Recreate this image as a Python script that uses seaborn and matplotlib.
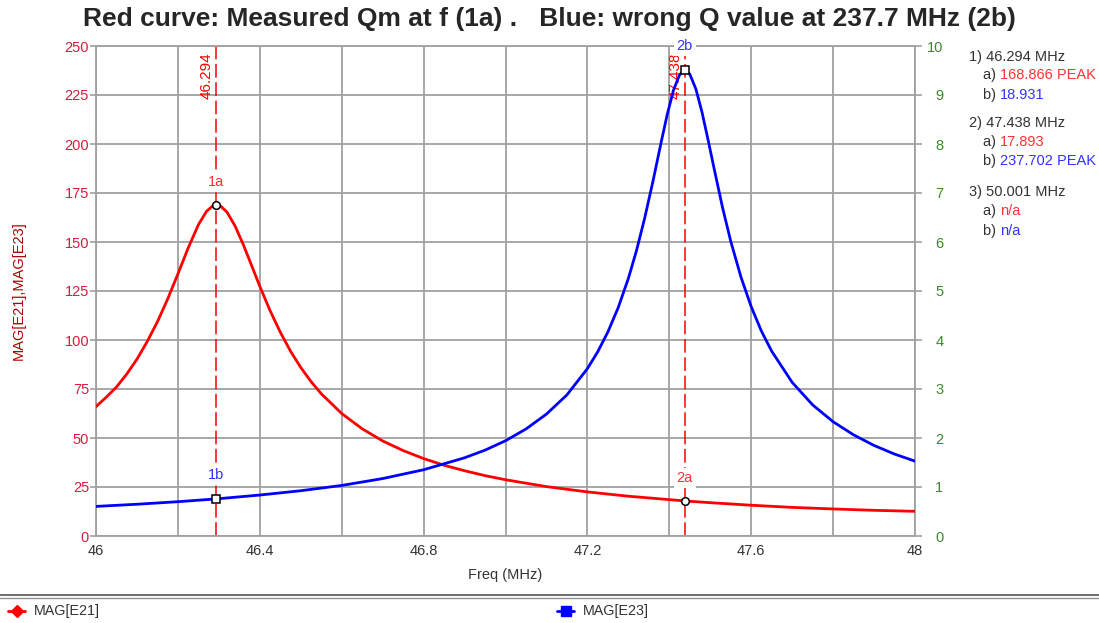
import matplotlib
matplotlib.use("Agg")
import matplotlib.pyplot as plt
from matplotlib.lines import Line2D
import seaborn as sns
import pandas as pd

# ---- data ----
freq_e21 = [46.000, 46.025, 46.050, 46.075, 46.100, 46.125, 46.150, 46.175, 46.200, 46.225,
            46.250, 46.270, 46.285, 46.294, 46.305, 46.320, 46.340, 46.360, 46.380, 46.400,
            46.425, 46.450, 46.475, 46.500, 46.525, 46.550, 46.600, 46.650, 46.700, 46.750,
            46.800, 46.850, 46.900, 46.950, 47.000, 47.100, 47.200, 47.300, 47.438, 47.500,
            47.600, 47.700, 47.800, 47.900, 48.000]
mag_e21 = [66.0, 70.8, 76.0, 82.6, 90.2, 99.2, 109.3, 120.9, 133.7, 146.9,
           158.8, 165.7, 168.4, 168.866, 168.2, 165.2, 158.0, 148.5, 138.0, 127.4,
           115.0, 104.0, 94.3, 86.0, 78.8, 72.6, 62.5, 54.7, 48.5, 43.6,
           39.5, 36.1, 33.3, 30.8, 28.7, 25.2, 22.5, 20.3, 17.893, 17.0,
           15.7, 14.6, 13.8, 13.1, 12.6]

freq_e23 = [46.000, 46.100, 46.200, 46.294, 46.400, 46.500, 46.600, 46.700, 46.800, 46.900,
            46.950, 47.000, 47.050, 47.100, 47.150, 47.200, 47.225, 47.250, 47.275, 47.300,
            47.320, 47.340, 47.360, 47.380, 47.395, 47.410, 47.425, 47.438, 47.450, 47.465,
            47.480, 47.495, 47.510, 47.530, 47.550, 47.575, 47.600, 47.625, 47.650, 47.700,
            47.750, 47.800, 47.850, 47.900, 47.950, 48.000]
mag_e23 = [15.1, 16.2, 17.5, 18.931, 20.9, 23.1, 25.8, 29.3, 33.8, 39.9,
           43.8, 48.6, 54.6, 62.2, 72.0, 85.4, 93.9, 104.1, 116.4, 131.4,
           145.7, 162.3, 180.9, 200.8, 215.1, 227.3, 235.3, 237.702, 235.7, 228.0,
           216.1, 201.8, 186.9, 167.6, 150.4, 132.1, 117.0, 104.5, 94.3, 78.4,
           66.9, 58.3, 51.6, 46.2, 41.8, 38.2]

marker_freqs = [46.294, 47.438]
marker_labels_freq = ["46.294", "47.438"]
markers_a = [("1a", 46.294, 168.866), ("2a", 47.438, 17.893)]
markers_b = [("1b", 46.294, 18.931), ("2b", 47.438, 237.702)]

x_ticks = [46, 46.4, 46.8, 47.2, 47.6, 48]
x_tick_labels = ["46", "46.4", "46.8", "47.2", "47.6", "48"]
y_ticks = list(range(0, 251, 25))
y2_ticks = list(range(0, 11))

readout = [
    ("1) 46.294 MHz", None, None),
    ("a) ", "168.866 PEAK", "red"),
    ("b) ", "18.931", "blue"),
    ("2) 47.438 MHz", None, None),
    ("a) ", "17.893", "red"),
    ("b) ", "237.702 PEAK", "blue"),
    ("3) 50.001 MHz", None, None),
    ("a) ", "n/a", "red"),
    ("b) ", "n/a", "blue"),
]
readout_y = [57, 75, 95, 123, 142, 161, 192, 211, 231]

title = "Red curve: Measured Qm at f (1a) .   Blue: wrong Q value at 237.7 MHz (2b)"

# ---- style ----
sns.set_style("white")
plt.rcParams["font.family"] = ["Liberation Sans", "DejaVu Sans"]

W, H = 1099, 623
FS = 10.5
fig = plt.figure(figsize=(W / 100, H / 100), dpi=100)
ax = fig.add_axes([96 / W, 1 - 536 / H, (915 - 96) / W, (536 - 46) / H])

RED = "#ff0000"
BLUE = "#0000ff"
GRID = "#a0a0a0"
LRED = "#d81b3c"
GREEN = "#3a8a2a"
TXT = "#333333"

df21 = pd.DataFrame({"freq": freq_e21, "mag": mag_e21})
df23 = pd.DataFrame({"freq": freq_e23, "mag": mag_e23})

ax.set_xlim(46, 48)
ax.set_ylim(0, 250)

# vertical marker lines
for f in marker_freqs:
    ax.axvline(f, color=RED, lw=1.1, dashes=(9, 3), zorder=1.5)
for f, lab in zip(marker_freqs, marker_labels_freq):
    ax.annotate(lab, xy=(f, 235), xytext=(-7, 0), textcoords="offset points",
                rotation=90, color=RED, fontsize=11, ha="center", va="center", zorder=1.6)

sns.lineplot(data=df21, x="freq", y="mag", ax=ax, color=RED, lw=2.0, zorder=3,
             estimator=None, sort=True, legend=False)
sns.lineplot(data=df23, x="freq", y="mag", ax=ax, color=BLUE, lw=2.0, zorder=3,
             estimator=None, sort=True, legend=False)

for lab, f, v in markers_a:
    ax.plot([f], [v], marker="o", ms=5.5, mfc="white", mec="black", mew=1.1,
            zorder=5, clip_on=False)
    ax.annotate(lab, xy=(f, v), xytext=(0, 16.5), textcoords="offset points",
                color="#ff3030", fontsize=FS, ha="center", va="center", zorder=4,
                bbox=dict(boxstyle="square,pad=0.2", fc="white", ec="none"),
                annotation_clip=False)
for lab, f, v in markers_b:
    ax.plot([f], [v], marker="s", ms=5.5, mfc="white", mec="black", mew=1.1,
            zorder=5, clip_on=False)
    ax.annotate(lab, xy=(f, v), xytext=(0, 17.5), textcoords="offset points",
                color="#3030ff", fontsize=FS, ha="center", va="center", zorder=4,
                bbox=dict(boxstyle="square,pad=0.2", fc="white", ec="none"),
                annotation_clip=False)

# axes styling
for s in ax.spines.values():
    s.set_color(GRID)
    s.set_linewidth(1.3)
ax.set_xticks(x_ticks)
ax.set_xticklabels(x_tick_labels)
ax.set_xticks([46 + 0.2 * i for i in range(11)], minor=True)
ax.grid(True, which="both", color=GRID, lw=1.3, zorder=0)
ax.set_axisbelow(True)
ax.set_yticks(y_ticks)
ax.tick_params(axis="x", which="both", length=0, pad=6, labelsize=FS, labelcolor=TXT)
ax.tick_params(axis="y", length=4, width=1.2, color=GRID, pad=1, labelsize=FS,
               labelcolor=LRED, left=True)
ax.set_xlabel("Freq (MHz)", fontsize=FS, color=TXT, labelpad=7)
ax.set_ylabel("MAG[E21],MAG[E23]", fontsize=FS, color="#b00000", labelpad=28)

ax2 = ax.twinx()
ax2.set_ylim(0, 10)
ax2.set_yticks(y2_ticks)
ax2.grid(False)
for s in ax2.spines.values():
    s.set_visible(False)
ax2.tick_params(axis="y", length=5, width=1.2, color=GRID, pad=15.5, labelsize=FS,
                labelcolor=GREEN, right=True)
for t in ax2.get_yticklabels():
    t.set_horizontalalignment("right")

fig.suptitle(title, fontsize=19, fontweight="bold", x=0.5, y=1 - 19 / H, va="center")

# readout panel
for (pre, val, col), yy in zip(readout, readout_y):
    if val is None:
        fig.text(969 / W, 1 - yy / H, pre, fontsize=FS, color=TXT, va="center", ha="left")
    else:
        fig.text(983 / W, 1 - yy / H, pre, fontsize=FS, color=TXT, va="center", ha="left")
        fig.text(1000 / W, 1 - yy / H, val, fontsize=FS,
                 color="#ff3333" if col == "red" else "#3333ff", va="center", ha="left")

# bottom legend strip
fig.add_artist(Line2D([0, 1], [1 - 595 / H] * 2, color="#555555", lw=1.2,
                      transform=fig.transFigure))
fig.add_artist(Line2D([0, 1], [1 - 598 / H] * 2, color="#909090", lw=1.0,
                      transform=fig.transFigure))
for x0, col, mk, lab in [(8, RED, "D", "MAG[E21]"), (557, BLUE, "s", "MAG[E23]")]:
    fig.add_artist(Line2D([x0 / W, (x0 + 17) / W], [1 - 611 / H] * 2, color=col, lw=2.0,
                          transform=fig.transFigure))
    fig.add_artist(Line2D([(x0 + 8.5) / W], [1 - 611 / H], color=col, marker=mk, ms=6.5,
                          transform=fig.transFigure))
    fig.text((x0 + 26) / W, 1 - 611 / H, lab, fontsize=10.3, color=TXT, va="center", ha="left")

fig.savefig("out.png", dpi=100)
